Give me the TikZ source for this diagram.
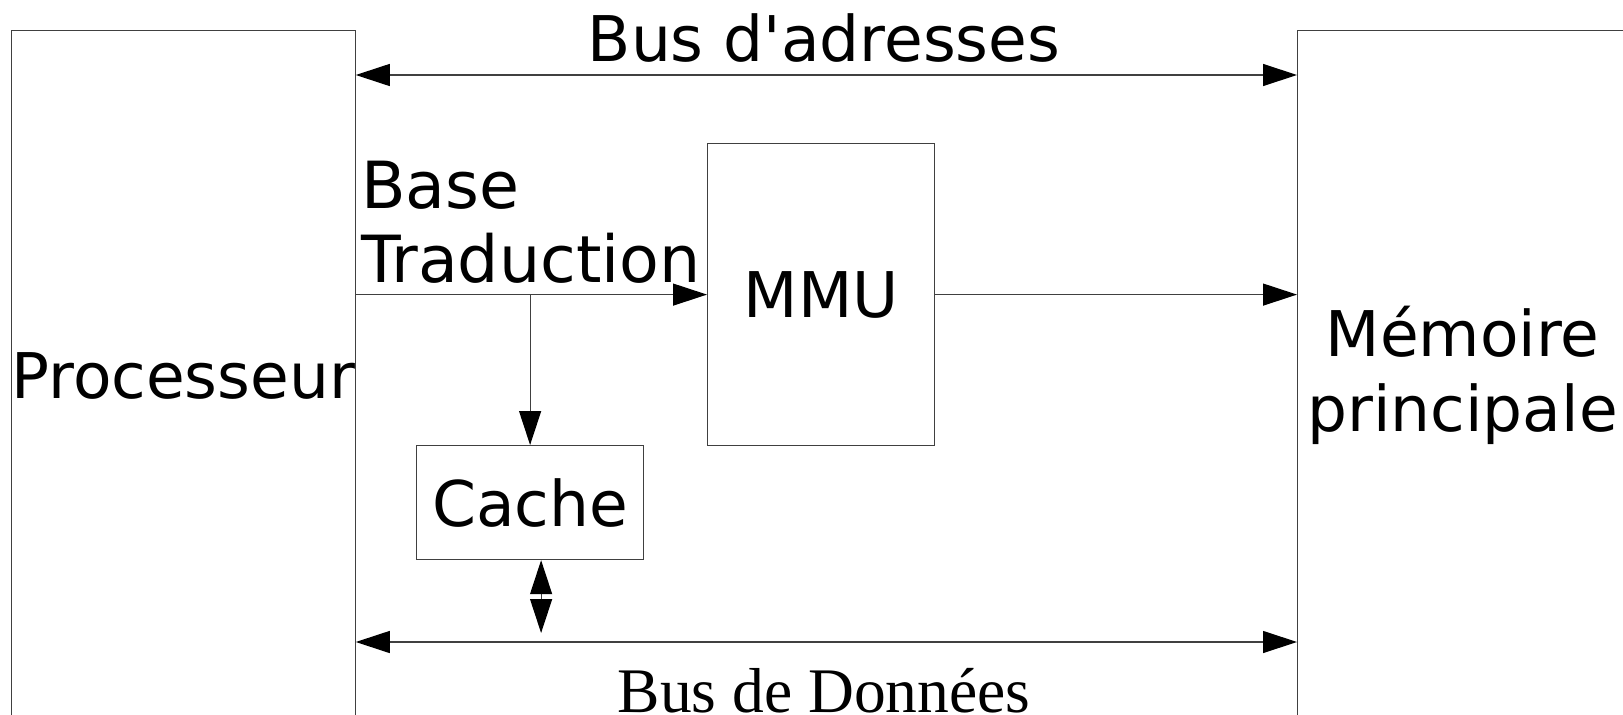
\documentclass[tikz,border=0pt]{standalone}
\usepackage{fontspec}
\setmainfont{DejaVu Sans}
% same face without TeX quote ligatures, for a straight apostrophe
\newfontfamily\sansplain{DejaVu Sans}
\newfontfamily\serifbus{Liberation Serif}
\usetikzlibrary{arrows.meta}

\begin{document}
\begin{tikzpicture}[x=1pt,y=-1pt,
  block/.style={draw=black!75, line width=1.2pt, rectangle, inner sep=0pt},
  lbl/.style={font=\fontsize{63}{75}\selectfont, inner sep=0pt},
  link/.style={draw=black!75, line width=1.2pt, -{Triangle[length=34pt,width=22pt,color=black]}},
  bilink/.style={draw=black!75, line width=1.2pt, {Triangle[length=34pt,width=22pt,color=black]}-{Triangle[length=34pt,width=22pt,color=black]}}]

\useasboundingbox (0,0) rectangle (1623,715);
\clip (0,0) rectangle (1623,715);

% bus levels
\coordinate (abus) at (0,75);
\coordinate (dbus) at (0,642);

% main blocks
\node[block, lbl, minimum width=341, minimum height=690, anchor=north west] (cpu) at (11,30) {Processeur};
\node[block, lbl, align=center, minimum width=330, minimum height=690, anchor=north west] (mem) at (1297,30) {Mémoire\\principale};
\node[block, lbl, minimum width=227, minimum height=302, anchor=north west] (mmu) at (707,143) {MMU};
\node[block, lbl, minimum width=227, minimum height=114, anchor=north west] (cache) at (416,445) {Cache};

% buses
\draw[bilink] (cpu.east |- abus) -- (mem.west |- abus);
\draw[bilink] (cpu.east |- dbus) -- (mem.west |- dbus);

% address translation path
\draw[link] (cpu.east |- mmu.west) -- (mmu.west);
\draw[link] (mmu.east) -- (mmu.east -| mem.west);
\draw[link] (cache.north |- mmu.west) -- (cache.north);

% cache to data bus
\draw[bilink, shorten >=9pt] ([xshift=11pt]cache.south) -- ([xshift=11pt]cache.south |- dbus);

% labels
\node[lbl, font=\sansplain\fontsize{63}{75}\selectfont, anchor=base] (abl) at (824,61) {Bus d'adresses};
\node[lbl, font=\serifbus\fontsize{63.5}{70}\selectfont, anchor=base] (dbl) at (824,712) {Bus de Données};
\node[lbl, font=\fontsize{65}{74}\selectfont, align=left, anchor=north west] (bt) at (361,161) {Base\\Traduction};
\end{tikzpicture}
\end{document}
